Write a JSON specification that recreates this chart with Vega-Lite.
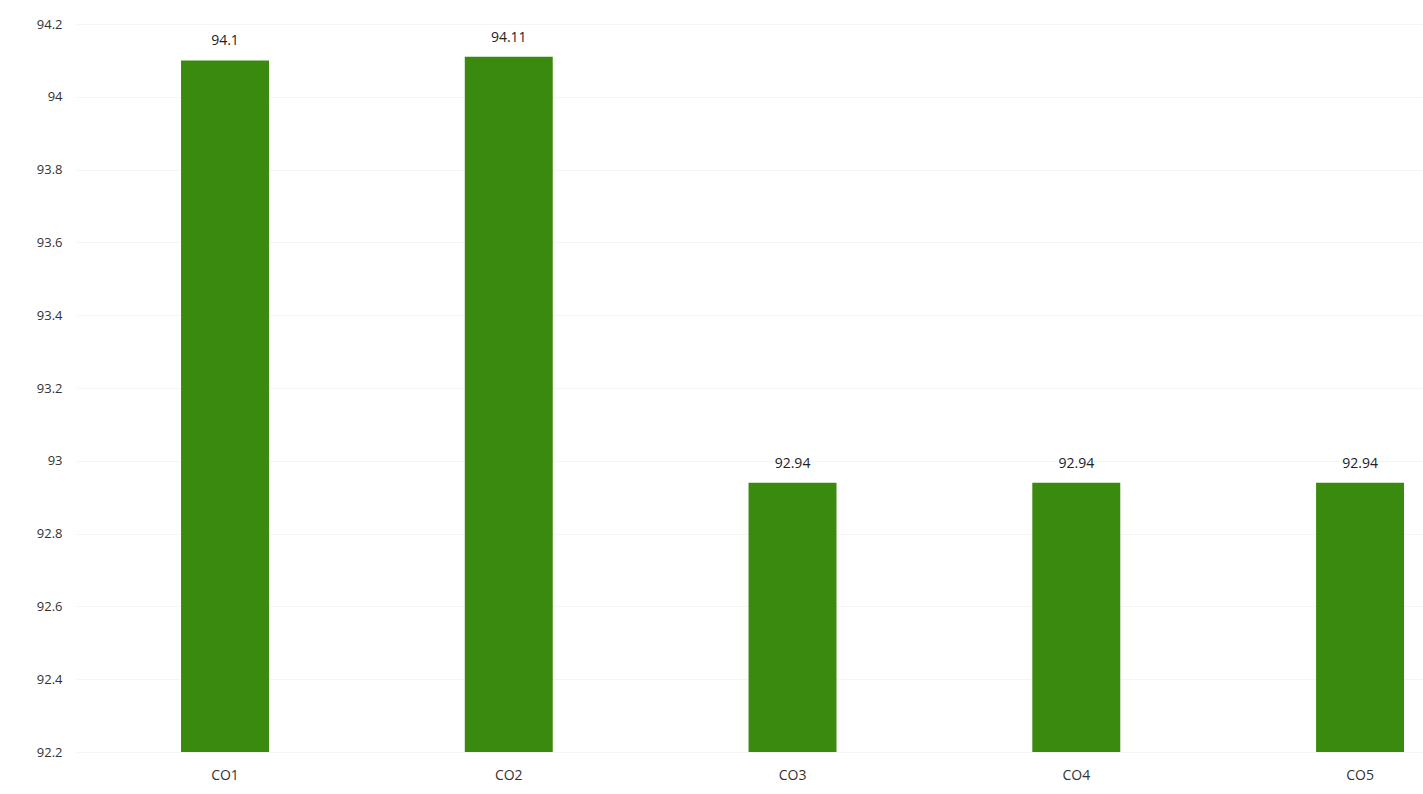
{
  "$schema": "https://vega.github.io/schema/vega-lite/v6.json",
  "autosize": {"type": "none"},
  "width": 1347,
  "height": 728,
  "padding": {"left": 76, "top": 24, "right": 0, "bottom": 42},
  "background": "#ffffff",
  "config": {
    "view": {"stroke": null},
    "font": "Open Sans"
  },
  "data": {
    "values": [
      {"category": "CO1", "value": 94.1},
      {"category": "CO2", "value": 94.11},
      {"category": "CO3", "value": 92.94},
      {"category": "CO4", "value": 92.94},
      {"category": "CO5", "value": 92.94}
    ]
  },
  "encoding": {
    "x": {
      "field": "category",
      "type": "nominal",
      "sort": null,
      "scale": {"paddingInner": 0.69, "paddingOuter": 0.2185, "align": 0.847},
      "axis": {
        "title": null,
        "domain": false,
        "ticks": false,
        "labelAngle": 0,
        "labelPadding": 16,
        "labelFontSize": 14,
        "labelColor": "#333333",
        "labelFont": "Open Sans",
        "grid": false
      }
    }
  },
  "layer": [
    {
      "mark": {"type": "bar", "color": "#3b8a10", "clip": true},
      "encoding": {
        "y": {
          "field": "value",
          "type": "quantitative",
          "scale": {"domain": [92.2, 94.2], "zero": false, "nice": false},
          "axis": {
            "title": null,
            "values": [92.2, 92.4, 92.6, 92.8, 93, 93.2, 93.4, 93.6, 93.8, 94, 94.2],
            "format": "~g",
            "domain": false,
            "ticks": false,
            "labelPadding": 14,
            "labelFontSize": 13,
            "labelColor": "#333333",
            "labelFont": "Open Sans",
            "grid": true,
            "gridColor": "#f5f5f5",
            "gridWidth": 1
          }
        },
        "y2": {"datum": 92.2}
      }
    },
    {
      "mark": {"type": "text", "baseline": "bottom", "dy": -12, "fontSize": 14, "color": "#222222", "font": "Open Sans"},
      "encoding": {
        "y": {"field": "value", "type": "quantitative"},
        "text": {"field": "value", "type": "quantitative"}
      }
    }
  ]
}
